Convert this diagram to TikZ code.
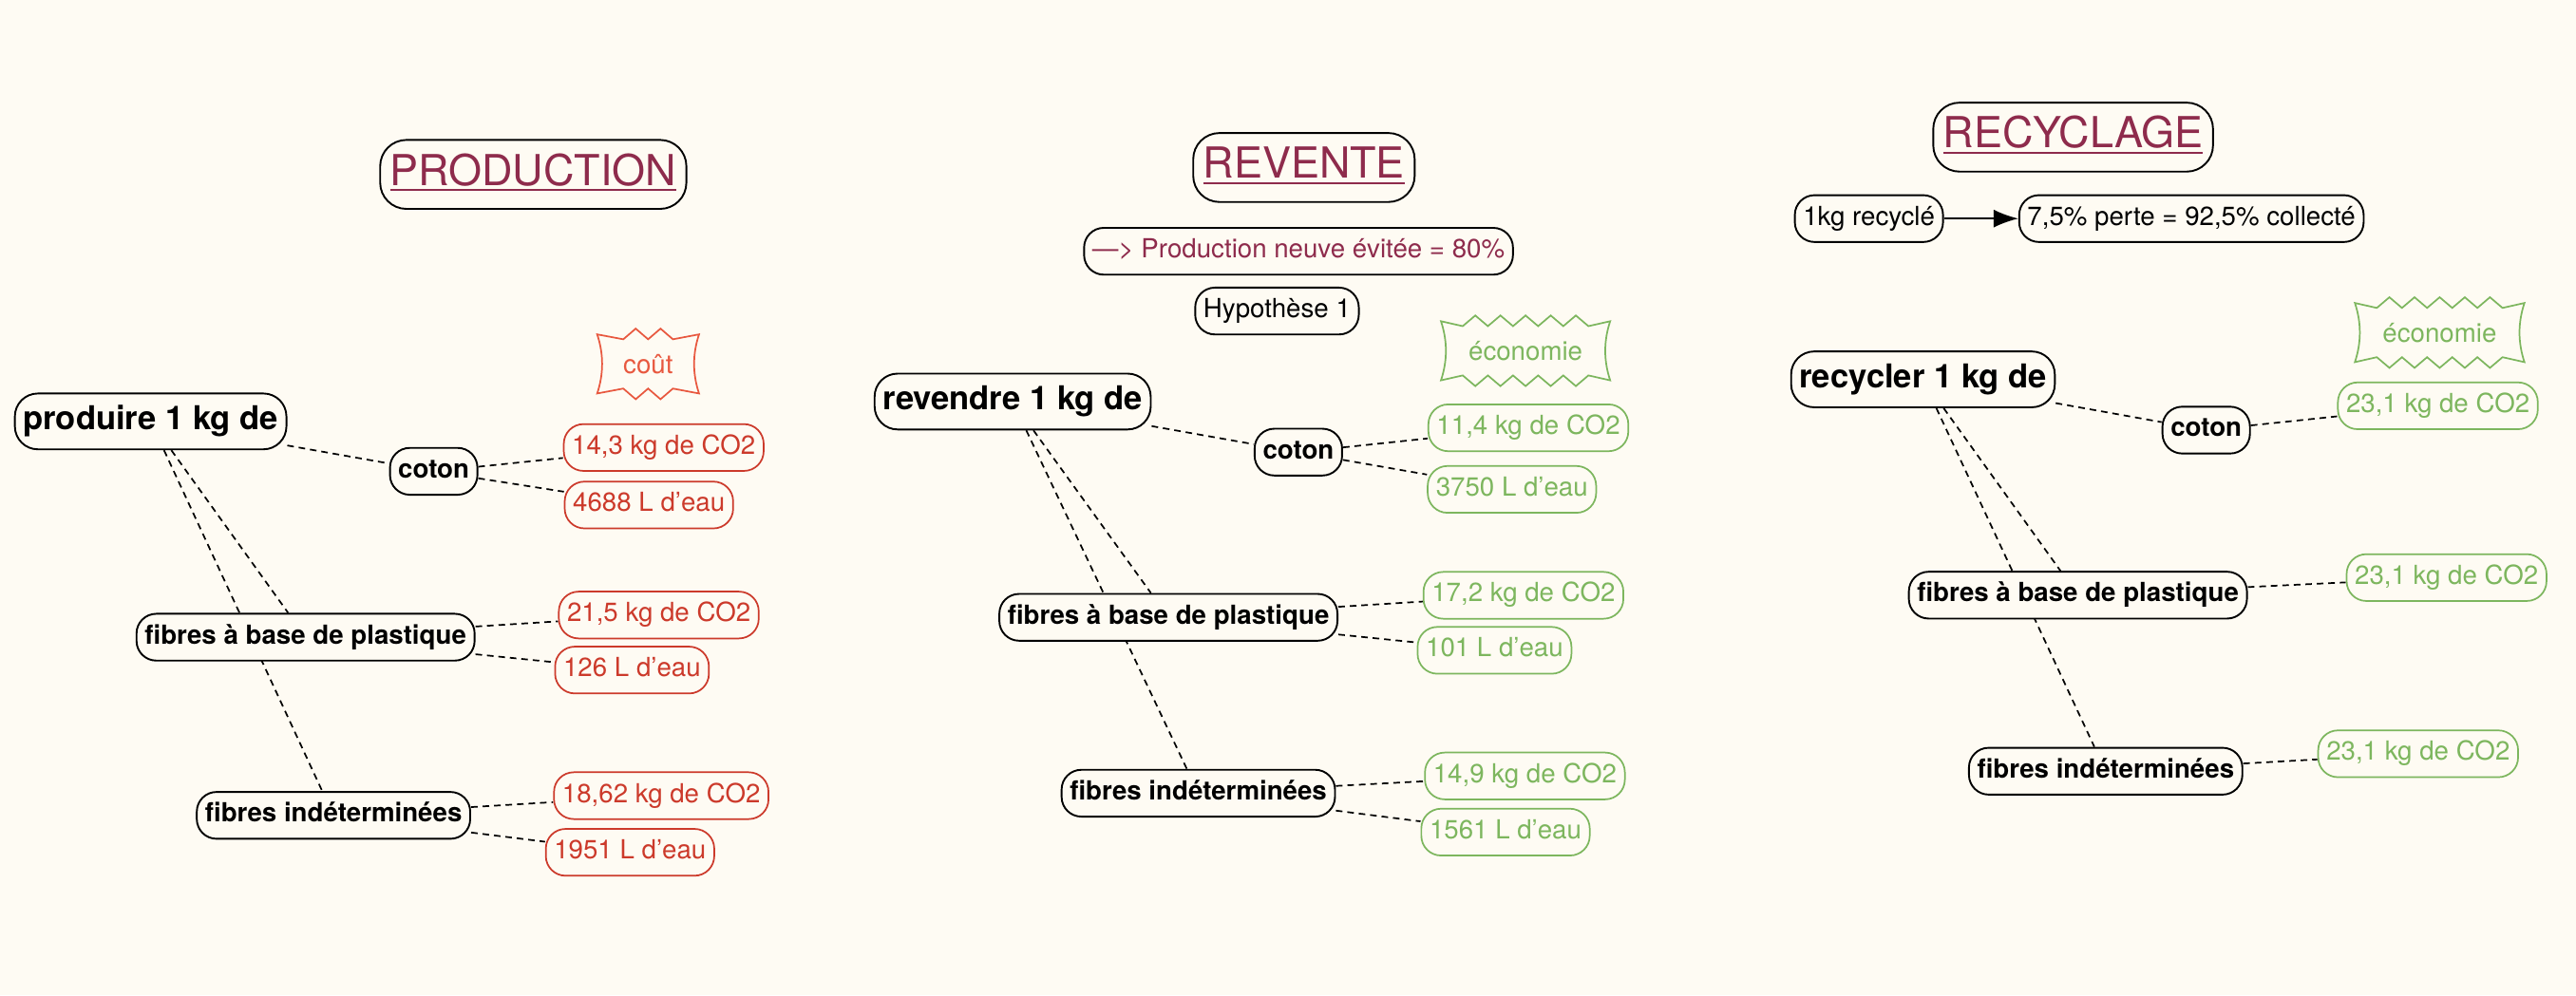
\documentclass[tikz,border=0pt]{standalone}
\usepackage{fontspec}
\setmainfont{TeX Gyre Heros}
\usetikzlibrary{arrows.meta,backgrounds}
\pgfdeclarelayer{edgelayer}
\pgfsetlayers{background,edgelayer,main}
\definecolor{bgc}{HTML}{FEFBF3}
\definecolor{maroon}{HTML}{8E2B4C}
\definecolor{redv}{HTML}{CC3A2B}
\definecolor{coutc}{HTML}{E8583F}
\definecolor{greenv}{HTML}{7DB65E}
\newcommand\titleul[1]{\setbox0\hbox{#1}\rlap{\color{maroon}\rule[-3.6pt]{\wd0}{1.3pt}}\box0}
\newcommand\burstshape[6]{%
  \pgfmathsetmacro\bo{(#4-1)/2*#5}%
  \pgfmathsetmacro\hs{#5/2}%
  \pgfmathtruncatemacro\nm{#4-1}%
  \draw[burstline,draw=#6] (#1-#3,#2-18)
    \foreach \k in {0,...,\nm} { -- (#1-\bo+\k*#5-\hs,#2-15) -- (#1-\bo+\k*#5,#2-21.5) }
    -- (#1+\bo+\hs,#2-15) -- (#1+#3,#2-18)
    .. controls (#1+#3-4,#2-6) and (#1+#3-4,#2+6) .. (#1+#3,#2+18)
    \foreach \k in {0,...,\nm} { -- (#1+\bo-\k*#5+\hs,#2+15) -- (#1+\bo-\k*#5,#2+21.5) }
    -- (#1-\bo-\hs,#2+15) -- (#1-#3,#2+18)
    .. controls (#1-#3+4,#2+6) and (#1-#3+4,#2-6) .. (#1-#3,#2-18) -- cycle;
}
\tikzset{
 box/.style={draw, line width=1.1pt, fill=bgc, rounded corners=12pt, inner xsep=5pt, inner ysep=0pt, minimum height=28.5pt},
 titlebox/.style={box, rounded corners=16pt, inner xsep=6pt, minimum height=42pt, text=maroon, font=\fontsize{26}{30}\selectfont, text height=18.7pt, text depth=5.5pt},
 bigbox/.style={box, rounded corners=14pt, minimum height=34pt, font=\bfseries\fontsize{20}{24}\selectfont, text height=14.4pt, text depth=4.2pt},
 catbox/.style={box, font=\bfseries\fontsize{16}{19}\selectfont, text height=11.5pt, text depth=3.4pt},
 plainbox/.style={box, font=\fontsize{16}{19}\selectfont, text height=11.5pt, text depth=3.4pt},
 redbox/.style={plainbox, draw=redv, text=redv, line width=1pt},
 greenbox/.style={plainbox, draw=greenv, text=greenv, line width=1pt},
 burstlabel/.style={font=\fontsize{16}{19}\selectfont, inner sep=0pt},
 link/.style={draw, line width=1pt, dash pattern=on 4pt off 3pt},
 burstline/.style={line width=1pt, fill=bgc, line join=miter},
}
\begin{document}
\begin{tikzpicture}[x=1pt,y=-1pt]
\begin{pgfonlayer}{background}
\fill[bgc] (0,0) rectangle (1568,606);
\end{pgfonlayer}
\useasboundingbox (0,0) rectangle (1568,606);

% titles
\node[titlebox] (tprod) at (324.6,106.2) {\titleul{PRODUCTION}};
\node[titlebox] (trev) at (793.7,102) {\titleul{REVENTE}};
\node[titlebox] (trec) at (1261.9,83.5) {\titleul{RECYCLAGE}};

\node[plainbox, text=maroon] (neuve) at (790.4,153) {—> Production neuve évitée = 80\%};
\node[plainbox] (hyp) at (777.3,189.4) {Hypothèse 1};
\node[plainbox] (kg1) at (1137.6,133.1) {1kg recyclé};
\node[plainbox] (perte) at (1333.9,133.1) {7,5\% perte = 92,5\% collecté};
\draw[line width=1.1pt, -{Latex[length=15pt,width=11pt]}] (kg1) -- (perte);

% bursts
\burstshape{394.5}{221.6}{31}{2}{15.1}{coutc}
\node[burstlabel, text=coutc] (cout) at (394.5,221.6) {coût};
\burstshape{928.6}{213.6}{51.5}{5}{15.3}{greenv}
\node[burstlabel, text=greenv] (eco1) at (928.6,213.6) {économie};
\burstshape{1485}{202.5}{51.6}{5}{15.3}{greenv}
\node[burstlabel, text=greenv] (eco2) at (1485,202.5) {économie};

% production
\node[bigbox] (prod) at (91.7,256.6) {produire 1 kg de};
\node[catbox] (pcot) at (264,287) {coton};
\node[redbox] (pcota) at (404,272.5) {14,3 kg de CO2};
\node[redbox] (pcotb) at (395,307.5) {4688 L d’eau};
\node[catbox] (pplast) at (186,388) {fibres à base de plastique};
\node[redbox] (pplasta) at (401,374.5) {21,5 kg de CO2};
\node[redbox] (pplastb) at (384.7,408) {126 L d’eau};
\node[catbox] (pind) at (203,496.5) {fibres indéterminées};
\node[redbox] (pinda) at (402.5,484.5) {18,62 kg de CO2};
\node[redbox] (pindb) at (383.5,519) {1951 L d’eau};

% revente
\node[bigbox] (rev) at (616.4,244.5) {revendre 1 kg de};
\node[catbox] (rcot) at (790.3,275.3) {coton};
\node[greenbox] (rcota) at (930.3,260.5) {11,4 kg de CO2};
\node[greenbox] (rcotb) at (920.3,298) {3750 L d’eau};
\node[catbox] (rplast) at (711.2,375.9) {fibres à base de plastique};
\node[greenbox] (rplasta) at (927.3,362.5) {17,2 kg de CO2};
\node[greenbox] (rplastb) at (909.7,396) {101 L d’eau};
\node[catbox] (rind) at (729.4,483) {fibres indéterminées};
\node[greenbox] (rinda) at (928.2,472.5) {14,9 kg de CO2};
\node[greenbox] (rindb) at (916.4,506.7) {1561 L d’eau};

% recyclage
\node[bigbox] (rec) at (1170.5,231) {recycler 1 kg de};
\node[catbox] (ccot) at (1342.9,261.9) {coton};
\node[greenbox] (ccota) at (1483.9,247.1) {23,1 kg de CO2};
\node[catbox] (cplast) at (1264.8,362.4) {fibres à base de plastique};
\node[greenbox] (cplasta) at (1489.2,351.7) {23,1 kg de CO2};
\node[catbox] (cind) at (1281.7,469.6) {fibres indéterminées};
\node[greenbox] (cinda) at (1471.9,459) {23,1 kg de CO2};

\begin{pgfonlayer}{edgelayer}
\draw[link] (prod) -- (pcot);
\draw[link] (pcot) -- (pcota);
\draw[link] (pcot) -- (pcotb);
\draw[link] (prod) -- (pplast);
\draw[link] (prod) -- (pind);
\draw[link] (pplast) -- (pplasta);
\draw[link] (pplast) -- (pplastb);
\draw[link] (pind) -- (pinda);
\draw[link] (pind) -- (pindb);

\draw[link] (rev) -- (rcot);
\draw[link] (rcot) -- (rcota);
\draw[link] (rcot) -- (rcotb);
\draw[link] (rev) -- (rplast);
\draw[link] (rev) -- (rind);
\draw[link] (rplast) -- (rplasta);
\draw[link] (rplast) -- (rplastb);
\draw[link] (rind) -- (rinda);
\draw[link] (rind) -- (rindb);

\draw[link] (rec) -- (ccot);
\draw[link] (ccot) -- (ccota);
\draw[link] (rec) -- (cplast);
\draw[link] (rec) -- (cind);
\draw[link] (cplast) -- (cplasta);
\draw[link] (cind) -- (cinda);
\end{pgfonlayer}
\end{tikzpicture}
\end{document}
